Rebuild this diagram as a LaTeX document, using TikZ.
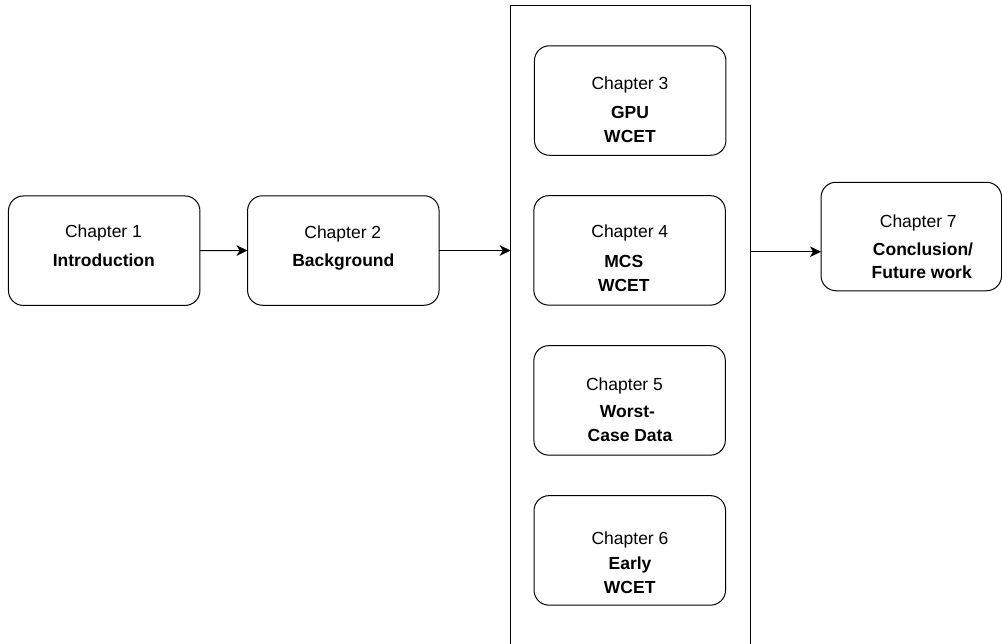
\documentclass[tikz,border=0pt]{standalone}
\usepackage{fontspec}
\setmainfont{Liberation Sans}
\usetikzlibrary{arrows.meta}
\begin{document}
\begin{tikzpicture}[x=1pt,y=-1pt,
  chapbox/.style={draw, line width=1pt, fill=white, rounded corners=15pt,
    inner sep=0pt, outer sep=0pt, minimum width=191.5pt, minimum height=109.5pt},
  groupbox/.style={draw, line width=1pt, inner sep=0pt, outer sep=0pt,
    minimum width=239.3pt, minimum height=660pt},
  txt/.style={anchor=base, inner sep=0pt, font=\fontsize{17.5}{21}\selectfont},
  btxt/.style={txt, font=\fontsize{17.5}{21}\selectfont\bfseries},
  link/.style={line width=1pt, -{Stealth[length=11pt, width=10.5pt, inset=3pt]}}
]
\useasboundingbox (0,0) rectangle (1002,643);
\clip (0,0) rectangle (1002,643);

% frame grouping chapters 3 to 6
\node[groupbox] (group) at (630.35,335) {};

% chapter boxes
\node[chapbox] (ch1) at (104.2,250.7) {};
\node[chapbox] (ch2) at (343.3,250.5) {};
\node[chapbox] (ch3) at (630.2,100.5) {};
\node[chapbox] (ch4) at (629.6,250.4) {};
\node[chapbox] (ch5) at (629.6,400.4) {};
\node[chapbox] (ch6) at (629.8,550.4) {};
\node[chapbox, minimum width=180.5pt, minimum height=108.5pt] (ch7) at (911.3,236.5) {};

% labels
\node[txt]  (t1a) at (103.5,237.5) {Chapter 1};
\node[btxt] (t1b) at (103.8,266) {Introduction};

\node[txt]  (t2a) at (342.8,238) {Chapter 2};
\node[btxt] (t2b) at (343.3,266) {Background};

\node[txt]  (t3a) at (630,89) {Chapter 3};
\node[btxt] (t3b) at (630,118.5) {GPU};
\node[btxt] (t3c) at (630,142) {WCET};

\node[txt]  (t4a) at (629.8,237) {Chapter 4};
\node[btxt] (t4b) at (623.8,267.5) {MCS};
\node[btxt] (t4c) at (623.8,291.5) {WCET};

\node[txt]  (t5a) at (624.5,390) {Chapter 5};
\node[btxt] (t5b) at (627.5,417) {Worst-};
\node[btxt] (t5c) at (630,441.5) {Case Data};

\node[txt]  (t6a) at (630,544.3) {Chapter 6};
\node[btxt] (t6b) at (630,569.3) {Early};
\node[btxt] (t6c) at (629.7,593.3) {WCET};

\node[txt]  (t7a) at (918.3,227.7) {Chapter 7};
\node[btxt] (t7b) at (923,255.5) {Conclusion/};
\node[btxt] (t7c) at (921.7,278.5) {Future work};

% connectors
\draw[link] (ch1.east) -- (ch2.west);
\draw[link] (ch2.east) -- (ch2.east -| group.west);
\draw[link] ([yshift=-1.2pt]ch2.east -| group.east) -- ([yshift=-1.2pt]ch2.east -| ch7.west);
\end{tikzpicture}
\end{document}
